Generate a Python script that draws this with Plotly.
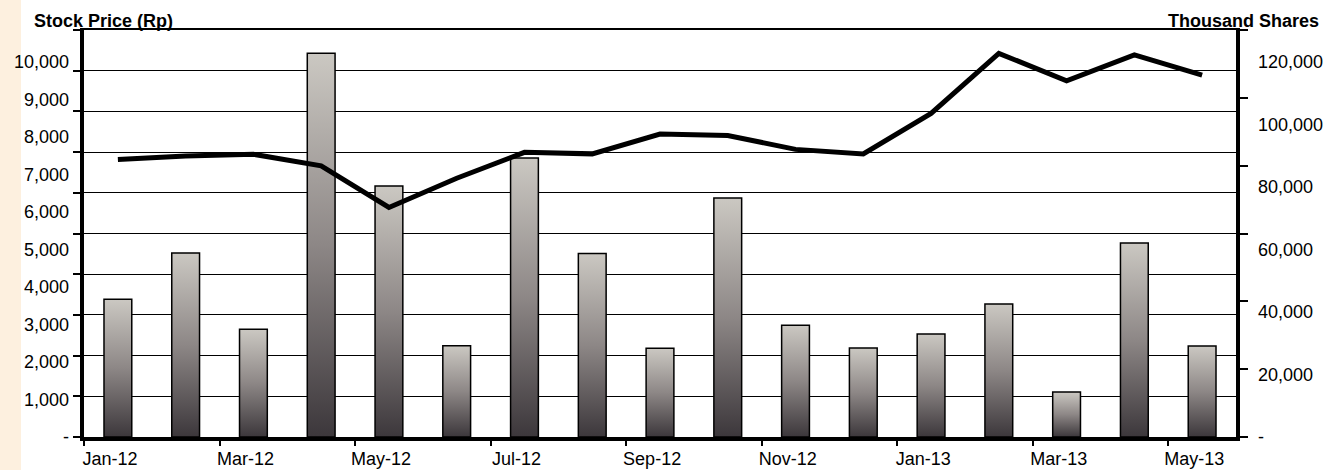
import plotly.graph_objects as go

# ---------------- data ----------------
months = ["Jan-12", "Feb-12", "Mar-12", "Apr-12", "May-12", "Jun-12", "Jul-12", "Aug-12",
          "Sep-12", "Oct-12", "Nov-12", "Dec-12", "Jan-13", "Feb-13", "Mar-13", "Apr-13", "May-13"]
x_tick_labels = ["Jan-12", "Mar-12", "May-12", "Jul-12", "Sep-12", "Nov-12", "Jan-13", "Mar-13", "May-13"]

stock_price = [7400, 7490, 7540, 7230, 6120, 6900, 7590, 7550,
               8080, 8040, 7670, 7550, 8630, 10230, 9500, 10190, 9650]
volume_thousand = [44100, 58900, 34500, 122800, 80300, 29200, 89300, 58700,
                   28400, 76500, 35800, 28500, 33000, 42600, 14400, 62100, 29100]

price_ticks = [0, 1000, 2000, 3000, 4000, 5000, 6000, 7000, 8000, 9000, 10000]
price_tick_text = ["-", "1,000", "2,000", "3,000", "4,000", "5,000", "6,000", "7,000", "8,000", "9,000", "10,000"]
volume_ticks = [0, 20000, 40000, 60000, 80000, 100000, 120000]
volume_tick_text = ["-", "20,000", "40,000", "60,000", "80,000", "100,000", "120,000"]

# ---------------- style ----------------
FONT = "Liberation Sans, Arial, sans-serif"
W, H = 1341, 470
ML, MR, MT, MB = 84, 105, 30, 33
PW, PH = W - ML - MR, H - MT - MB
PRICE_MAX = 10853
VOLUME_MAX = 130240
BAR_HALF = 0.205
TICK_SIZE = 18
bar_scale = [[0, "#3c373b"], [0.5, "#8d8786"], [1, "#cbc8c2"]]

idx = list(range(len(months)))

fig = go.Figure()

# volume bars (gradient filled rectangles built from the data)
for i, v in zip(idx, volume_thousand):
    fig.add_trace(go.Scatter(
        x=[i - BAR_HALF, i - BAR_HALF, i + BAR_HALF, i + BAR_HALF, i - BAR_HALF],
        y=[0, v, v, 0, 0],
        mode="lines", fill="toself",
        fillgradient=dict(type="vertical", colorscale=bar_scale),
        line=dict(color="black", width=1.5),
        xaxis="x", yaxis="y", hoverinfo="skip", showlegend=False,
        name=months[i],
    ))

# empty traces so the frame / grid axes get their own subplots
for xa, ya in [("x", "y3"), ("x", "y4"), ("x2", "y")]:
    fig.add_trace(go.Scatter(x=[], y=[], xaxis=xa, yaxis=ya, mode="lines",
                             hoverinfo="skip", showlegend=False))

# stock price line
fig.add_trace(go.Scatter(
    x=idx, y=stock_price, mode="lines",
    line=dict(color="black", width=5),
    xaxis="x", yaxis="y2", showlegend=False, name="Stock Price",
))

x_tick_pos = [months.index(m) - 0.5 for m in x_tick_labels]

fig.update_layout(
    width=W, height=H, autosize=False,
    margin=dict(l=ML, r=MR, t=MT, b=MB, pad=0, autoexpand=False),
    paper_bgcolor="white", plot_bgcolor="white",
    font=dict(family=FONT, size=TICK_SIZE, color="black"),
    showlegend=False,
    xaxis=dict(
        range=[-0.5, len(months) - 0.5], tickvals=x_tick_pos, ticktext=x_tick_labels,
        ticks="outside", ticklen=5, tickwidth=2, tickcolor="black",
        ticklabelshift=26, ticklabelstandoff=-3, automargin=False,
        showline=True, linewidth=4, linecolor="black",
        showgrid=False, zeroline=False, tickfont=dict(size=TICK_SIZE),
    ),
    xaxis2=dict(
        overlaying="x", side="top", anchor="y", range=[-0.5, len(months) - 0.5],
        showline=True, linewidth=1.5, linecolor="black", automargin=False,
        showticklabels=False, ticks="", showgrid=False, zeroline=False,
    ),
    yaxis=dict(
        side="right", range=[0, VOLUME_MAX], tickvals=volume_ticks, ticktext=volume_tick_text,
        ticks="", showgrid=False, zeroline=False, showline=False, automargin=False,
        ticklabelstandoff=21, tickfont=dict(size=TICK_SIZE),
    ),
    yaxis2=dict(
        overlaying="y", side="left", anchor="x", range=[0, PRICE_MAX],
        tickvals=price_ticks, ticktext=price_tick_text, automargin=False,
        ticks="", showgrid=False, zeroline=False, showline=False,
        ticklabelstandoff=14, tickfont=dict(size=TICK_SIZE),
    ),
    yaxis3=dict(
        overlaying="y", side="left", anchor="x", range=[0, 10], tick0=0, dtick=1,
        showgrid=True, gridcolor="black", gridwidth=1, automargin=False,
        ticks="outside", ticklen=7, tickwidth=2, tickcolor="black",
        showticklabels=False, showline=True, linewidth=4, linecolor="black", zeroline=False,
    ),
    yaxis4=dict(
        overlaying="y", side="right", anchor="x", range=[0, 6], tick0=0, dtick=1,
        showgrid=False, ticks="outside", ticklen=8, tickwidth=2, tickcolor="black",
        automargin=False,
        showticklabels=False, showline=True, linewidth=4, linecolor="black", zeroline=False,
    ),
    shapes=[dict(
        type="rect", xref="paper", yref="paper", layer="below",
        x0=-ML / PW, x1=(21 - ML) / PW, y0=-MB / PH, y1=1 + MT / PH,
        fillcolor="#fdf0df", line=dict(width=0),
    )],
    annotations=[
        dict(text="<b>Stock Price (Rp)</b>", xref="paper", yref="paper",
             x=(32 - ML) / PW, y=1 + (MT - 21) / PH, xanchor="left", yanchor="middle",
             showarrow=False, font=dict(size=18, family=FONT, color="black")),
        dict(text="<b>Thousand Shares</b>", xref="paper", yref="paper",
             x=(1321 - ML) / PW, y=1 + (MT - 21) / PH, xanchor="right", yanchor="middle",
             showarrow=False, font=dict(size=18, family=FONT, color="black")),
    ],
)

fig.write_html("out.html")
